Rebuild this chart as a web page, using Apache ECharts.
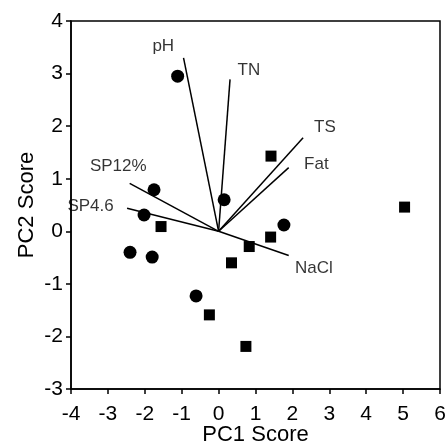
<!DOCTYPE html>
<html style="height: 100%">
    <head>
        <title>PCA Biplot</title>
        <script type="text/javascript" src="https://fastly.jsdelivr.net/npm/echarts@6/dist/echarts.min.js"></script>
    </head>
    <body style="height: 100%; margin: 0; background: #fff">
        <div id="target" style="width: 447px; height: 445px"></div>

<script>
// sample scores, two groups
let circlePts = [
    [-1.11, 2.95], [-1.75, 0.79], [0.15, 0.60], [-2.02, 0.31],
    [1.77, 0.12], [-2.40, -0.40], [-1.80, -0.49], [-0.61, -1.23],
];
let squarePts = [
    [1.42, 1.43], [5.04, 0.46], [-1.56, 0.09], [1.41, -0.11],
    [0.83, -0.29], [0.35, -0.60], [-0.25, -1.59], [0.74, -2.19],
];

// loading vectors, drawn from the origin
let loadNames = ["pH", "TN", "TS", "Fat", "SP12%", "SP4.6", "NaCl"];
let loadEnds  = [[-0.95, 3.30], [0.31, 2.89], [2.29, 1.78], [1.90, 1.21], [-2.41, 0.91], [-2.48, 0.44], [1.90, -0.46]];
let labelPos  = [[-1.50, 3.52], [0.82, 3.07], [2.88, 1.98], [2.65, 1.28], [-2.72, 1.24], [-3.47, 0.48], [2.58, -0.70]];

let xTicks = [-4, -3, -2, -1, 0, 1, 2, 3, 4, 5, 6];
let yTicks = [-3, -2, -1, 0, 1, 2, 3, 4];

let font = "'Liberation Sans', Arial, sans-serif";

let chart = echarts.init(document.getElementById('target'));

let series = [];

// one line per loading
loadEnds.forEach((end, i) => {
    series.push({
        type: "line",
        data: [[0, 0], end],
        symbol: "none",
        silent: true,
        lineStyle: { color: "#000", width: 1.5 },
        z: 2,
    });
});

// labels for the loadings
series.push({
    type: "scatter",
    symbolSize: 0,
    silent: true,
    data: labelPos.map((p, i) => [p[0], p[1], loadNames[i]]),
    label: {
        show: true,
        position: "inside",
        formatter: (p) => p.value[2],
        color: "#000",
        fontFamily: font,
        fontSize: 17,
    },
});

series.push({
    type: "scatter",
    symbol: "circle",
    symbolSize: 13,
    itemStyle: { color: "#000", opacity: 1 },
    data: circlePts,
    z: 3,
});

series.push({
    type: "scatter",
    symbol: "rect",
    symbolSize: 11,
    itemStyle: { color: "#000", opacity: 1 },
    data: squarePts,
    z: 3,
});

let axisCommon = {
    axisLine: { show: true, onZero: false, lineStyle: { color: "#000", width: 1.5 } },
    axisTick: { show: true, inside: false, length: 5, lineStyle: { color: "#000", width: 1.5 } },
    splitLine: { show: false },
    nameMoveOverlap: false,
    nameTextStyle: { color: "#000", fontFamily: font, fontSize: 22 },
    axisLabel: { color: "#000", fontFamily: font, fontSize: 21 },
};

let option = {
    animation: false,
    backgroundColor: "#fff",
    grid: {
        left: 71,
        right: 7,
        top: 21,
        bottom: 56,
        outerBoundsMode: "none",
        containLabel: false,
        show: true,
        borderColor: "#000",
        borderWidth: 1.5,
    },
    xAxis: Object.assign({}, axisCommon, {
        type: "value",
        min: xTicks[0],
        max: xTicks[xTicks.length - 1],
        interval: 1,
        name: "PC1 Score",
        nameLocation: "middle",
        nameGap: 27,
        axisLabel: Object.assign({}, axisCommon.axisLabel, { margin: 7 }),
    }),
    yAxis: Object.assign({}, axisCommon, {
        type: "value",
        min: yTicks[0],
        max: yTicks[yTicks.length - 1],
        interval: 1,
        name: "PC2 Score",
        nameLocation: "middle",
        nameGap: 25,
        axisLabel: Object.assign({}, axisCommon.axisLabel, { margin: 8 }),
    }),
    series: series,
};

chart.setOption(option);
</script>
    </body>
</html>
